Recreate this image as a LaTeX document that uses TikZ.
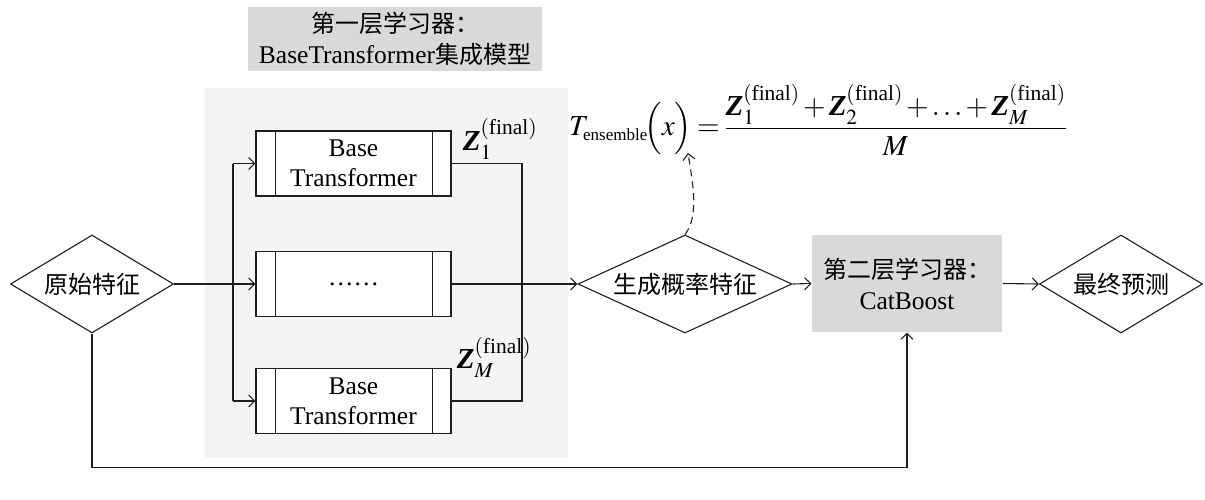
\documentclass[tikz,border=0pt]{standalone}
\usepackage{amsmath}
\usepackage{mathptmx}
\usepackage{fontspec}
\setmainfont{Liberation Serif}
\newfontfamily\cjk{Noto Sans CJK SC}
\usetikzlibrary{shapes.geometric,arrows.meta}
\definecolor{panel}{HTML}{F4F4F4}
\definecolor{hdr}{HTML}{D9D9D9}
\definecolor{ink}{HTML}{1E1E1E}
\newcommand{\Zb}{\mbox{\bfseries\itshape Z}}
\newcommand{\fin}{^{(\text{final})}}
\begin{document}
\begin{tikzpicture}[x=1pt,y=-1pt,
  line width=1.1pt, draw=ink,
  arr/.style={-{Straight Barb[length=6pt,width=12pt,line width=1.1pt]}},
  dia/.style={draw=ink,diamond,aspect=2,inner sep=0pt,font=\cjk\fontsize{24}{28}\selectfont},
  bt/.style={draw=ink,fill=white,minimum width=195pt,minimum height=65pt,inner sep=0pt,align=center,font=\fontsize{25.5}{30}\selectfont},
  gbox/.style={fill=hdr,inner sep=0pt,align=center,font=\fontsize{25.5}{31}\selectfont},
  mth/.style={inner sep=0pt,font=\fontsize{29}{36}\selectfont}
]
\useasboundingbox (0,0) rectangle (1205,499);
\fill[panel] (205,88) rectangle (568,458);
\node[gbox,minimum width=294pt,minimum height=64pt] (title) at (395,39) {{\cjk\fontsize{24}{31}\selectfont 第一层学习器：}\\BaseTransformer{\cjk\fontsize{24}{31}\selectfont 集成模型}};

\node[dia,minimum width=163pt,minimum height=98pt] (raw) at (92,284) {原始特征};
\node[dia,minimum width=214pt,minimum height=98pt] (gen) at (685,284) {生成概率特征};
\node[dia,minimum width=163pt,minimum height=98pt] (fin) at (1121,284) {最终预测};

\node[bt] (b1) at (353.5,163.5) {Base\\Transformer};
\node[bt] (b2) at (353.5,284) {……};
\node[bt] (b3) at (353.5,401) {Base\\Transformer};
\foreach \b in {b1,b2,b3}{
  \draw ([xshift=20pt]\b.north west) -- ([xshift=20pt]\b.south west);
  \draw ([xshift=-19pt]\b.north east) -- ([xshift=-19pt]\b.south east);
}

\node[gbox,minimum width=190pt,minimum height=97pt] (cb) at (907,283.5) {{\cjk\fontsize{24}{31}\selectfont 第二层学习器：}\\CatBoost};

\node[mth] (z1) at (500,139) {$\Zb_1\fin$};
\node[mth] (zm) at (494,357) {$\Zb_M\fin$};
\node[mth] (eq) at (818,120) {\medmuskip=2mu\thickmuskip=3mu$\displaystyle T_{\mbox{\fontsize{17}{20}\selectfont ensemble}}\!\Bigl(x\Bigr)=\frac{\Zb_1\fin+\Zb_2\fin+\ldots+\Zb_M\fin}{M}$};

\coordinate (lt) at (233,163.5);
\coordinate (lb) at (233,401);
\coordinate (rt) at (522,163.5);
\coordinate (rb) at (522,401);
\coordinate (dtip) at (688,153);

\draw[arr] (raw.east) -- (b2.west);
\draw (lt) -- (lb);
\draw[arr] (lt) -- (b1.west);
\draw[arr] (lb) -- (b3.west);
\draw (b1.east) -- (rt) -- (rb) -- (b3.east);
\draw[arr] (b2.east) -- (gen.west);
\draw[arr] (gen.east) -- (cb.west);
\draw[arr] (cb.east) -- (fin.west);
\draw[arr] (raw.south) -- ++(0,134) -| (cb.south);
\draw[arr,dashed,dash pattern=on 7pt off 5pt] (gen.north) .. controls (700,215) and (692,180) .. (dtip);
\end{tikzpicture}
\end{document}
